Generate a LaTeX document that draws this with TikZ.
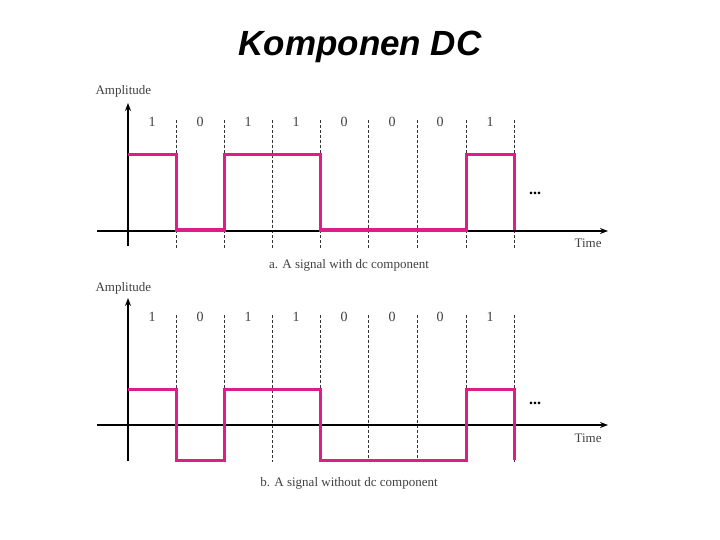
\documentclass[tikz,border=0pt]{standalone}
\usepackage{fontspec}
\setmainfont{Liberation Serif}
\newfontfamily\titlefont{Liberation Sans}
\usetikzlibrary{arrows.meta}
\definecolor{sig}{RGB}{222,28,138}
\tikzset{
  ax/.style={line width=1.3pt,-{Stealth[length=8pt,width=6pt]}},
  dsh/.style={densely dashed,line width=0.6pt,black!80},
  wave/.style={sig,line width=3pt,line join=miter},
  lbl/.style={font=\fontsize{13}{13}\selectfont,text=black!75},
  bit/.style={font=\fontsize{14}{14}\selectfont,text=black!75}
}
\begin{document}
\begin{tikzpicture}[x=1pt,y=-1pt]
\useasboundingbox (0,0) rectangle (720,540);
\node (title) at (360,47) {\titlefont\bfseries\itshape\fontsize{35}{35}\selectfont Komponen DC};
% ---------- top ----------
\coordinate (ya1) at (128,246); \coordinate (yb1) at (128,103);
\coordinate (xa1) at (97,231); \coordinate (xb1) at (608,231);
\foreach \i/\x in {1/176,2/224,3/272,4/320,5/368,6/417,7/466,8/514}{
  \coordinate (t\i) at (\x,120); \coordinate (b\i) at (\x,248);
  \draw[dsh] (t\i) -- (b\i);
}
\draw[ax] (ya1) -- (yb1);
\draw[ax] (xa1) -- (xb1);
\draw[wave] (128,155) -| (176,230) -| (224,155) -| (320,230) -| (466,155) -| (514,230);
\foreach \x/\b in {152/1,200/0,248/1,296/1,344/0,392/0,440/0,490/1}
  \node[bit] (n\x) at (\x,122) {\b};
\node[font=\bfseries\fontsize{16}{16}\selectfont] (dots1) at (535,193) {...};
\node[lbl,anchor=west] (amp1) at (92,91) {Amplitude};
\node[lbl,anchor=west] (time1) at (571,243) {Time};
\node[lbl] (cap1) at (349,265) {a. A signal with dc component};
% ---------- bottom ----------
\coordinate (ya2) at (128,461); \coordinate (yb2) at (128,298);
\coordinate (xa2) at (97,425); \coordinate (xb2) at (608,425);
\foreach \i/\x in {1/176,2/224,3/272,4/320,5/368,6/417,7/466,8/514}{
  \coordinate (u\i) at (\x,315); \coordinate (v\i) at (\x,462);
  \draw[dsh] (u\i) -- (v\i);
}
\draw[ax] (ya2) -- (yb2);
\draw[ax] (xa2) -- (xb2);
\draw[wave] (128,389) -| (176,460) -| (224,389) -| (320,460) -| (466,389) -| (514,460);
\foreach \x/\b in {152/1,200/0,248/1,296/1,344/0,392/0,440/0,490/1}
  \node[bit] (m\x) at (\x,317) {\b};
\node[font=\bfseries\fontsize{16}{16}\selectfont] (dots2) at (535,403) {...};
\node[lbl,anchor=west] (amp2) at (92,288) {Amplitude};
\node[lbl,anchor=west] (time2) at (571,438) {Time};
\node[lbl] (cap2) at (349,483) {b. A signal without dc component};
\end{tikzpicture}
\end{document}
